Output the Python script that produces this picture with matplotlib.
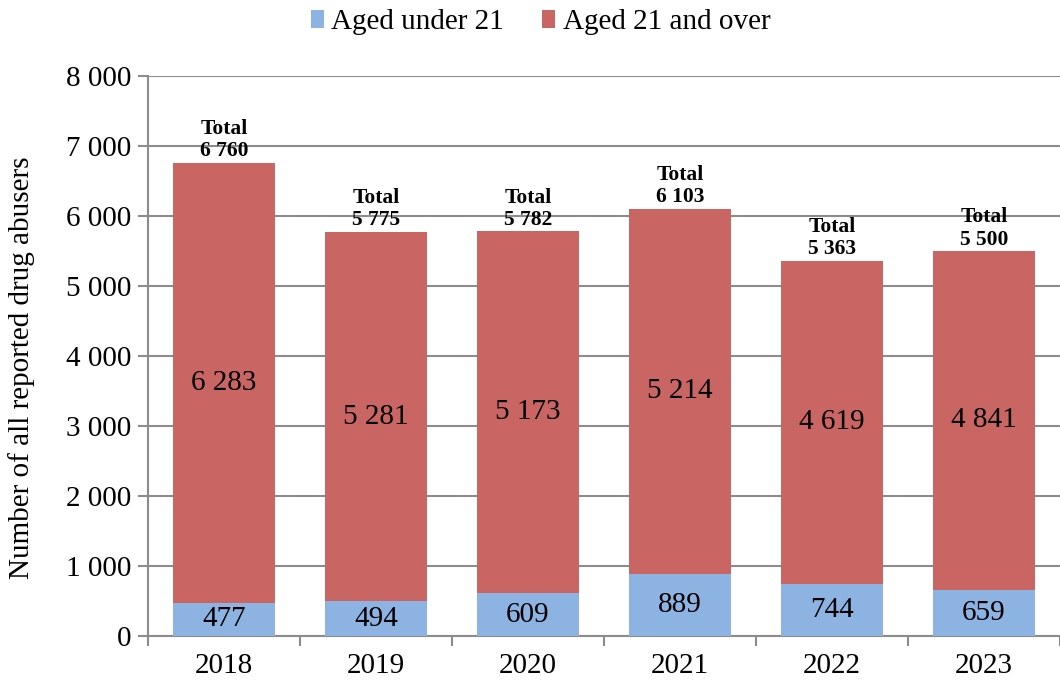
import matplotlib
matplotlib.use("Agg")
import matplotlib.pyplot as plt
import numpy as np

years = ["2018", "2019", "2020", "2021", "2022", "2023"]
under21 = [477, 494, 609, 889, 744, 659]
over21 = [6283, 5281, 5173, 5214, 4619, 4841]
totals = [6760, 5775, 5782, 6103, 5363, 5500]
yticks = [0, 1000, 2000, 3000, 4000, 5000, 6000, 7000, 8000]

def fmt(v):
    return f"{v:,}".replace(",", " ")

plt.rcParams['font.family'] = ['Liberation Serif', 'DejaVu Serif']

blue = "#8DB3E2"
red = "#C96563"
gray = "#8C8C8C"

fig = plt.figure(figsize=(10.6, 6.83), dpi=100)
ax = fig.add_axes([148/1060, 1-636/683, 1-148/1060, (636-76)/683])

x = np.arange(len(years))
w = 0.665
b1 = ax.bar(x, under21, w, color=blue, label="Aged under 21", zorder=3)
b2 = ax.bar(x, over21, w, bottom=under21, color=red, label="Aged 21 and over", zorder=3)

for i in range(len(years)):
    ax.text(x[i], under21[i]/2, fmt(under21[i]), ha="center", va="center", fontsize=21, zorder=4)
    ax.text(x[i], under21[i] + over21[i]/2, fmt(over21[i]), ha="center", va="center", fontsize=21, zorder=4)
    ax.text(x[i], totals[i] + 20, "Total\n" + fmt(totals[i]), ha="center", va="bottom",
            fontsize=15.5, fontweight="bold", linespacing=1.15, zorder=4)

ax.set_xlim(-0.5, len(years) - 0.5)
ax.set_ylim(0, 8000)
ax.set_yticks(yticks)
ax.set_yticklabels([fmt(v) for v in yticks], fontsize=21)
ax.set_xticks(x)
ax.set_xticklabels(years, fontsize=21)
ax.set_xticks(np.arange(-0.5, len(years)), minor=True)
ax.tick_params(axis="x", which="major", length=0, pad=12)
ax.tick_params(axis="x", which="minor", length=7, width=1.5, color=gray, direction="out")
ax.tick_params(axis="y", length=7, width=1.5, color=gray, direction="out", pad=5)

ax.yaxis.grid(True, color=gray, linewidth=1.5, zorder=0)
ax.set_axisbelow(True)
for s in ["top", "right"]:
    ax.spines[s].set_visible(False)
for s in ["left", "bottom"]:
    ax.spines[s].set_color(gray)
    ax.spines[s].set_linewidth(1.5)

ax.set_ylabel("Number of all reported drug abusers", fontsize=21)
ax.yaxis.set_label_coords(-0.124, 0.479)

fig.legend(handles=[b1, b2], loc="upper center", bbox_to_anchor=(0.51, 1.025), ncol=2,
           frameon=False, fontsize=21, handlelength=0.45, handleheight=0.6,
           handletextpad=0.25, columnspacing=1.3)

fig.savefig("out.png", dpi=100)
